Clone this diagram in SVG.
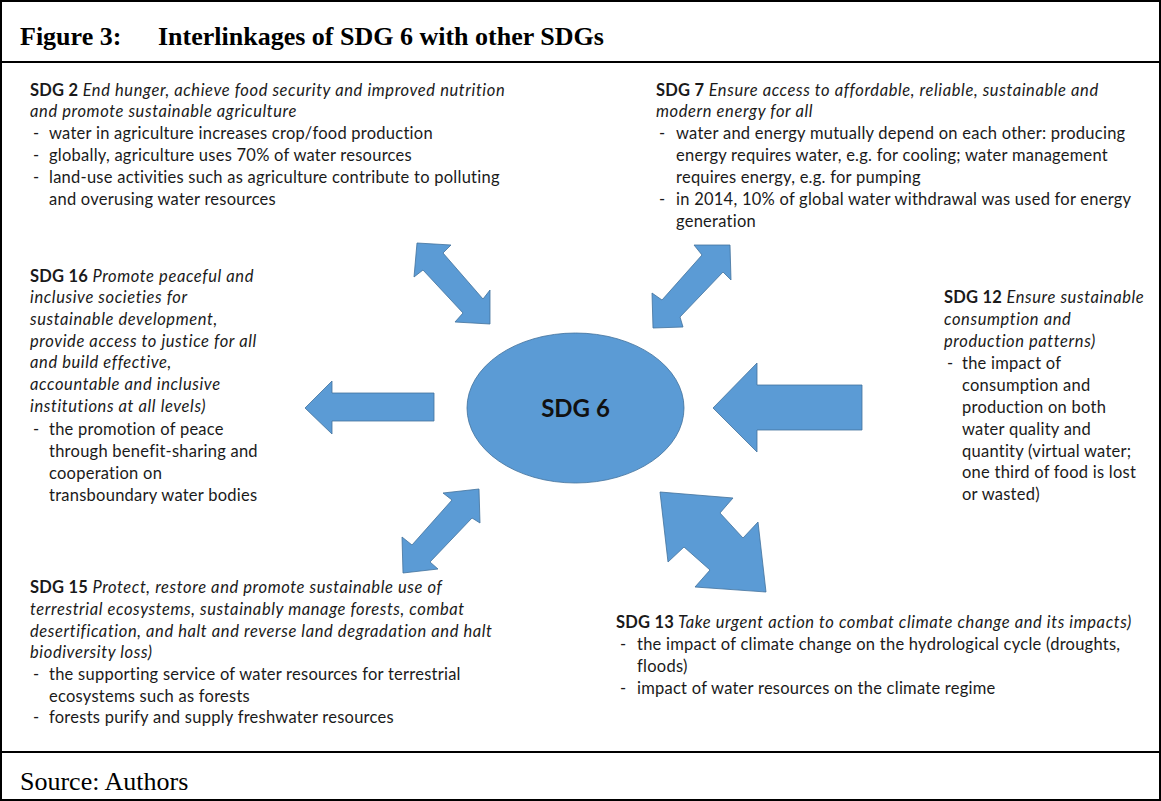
<svg xmlns="http://www.w3.org/2000/svg" width="1161" height="801" viewBox="0 0 1161 801">
<style>
.t{font-family:Lato,"Open Sans","Liberation Sans",sans-serif;font-size:16.5px;fill:#1a1a1a;letter-spacing:0.25px}
.b{font-weight:bold;letter-spacing:0.2px}
.i{font-style:italic;letter-spacing:0.6px}
.c{font-family:Lato,"Open Sans","Liberation Sans",sans-serif;font-size:24px;font-weight:bold;fill:#111}
.s{font-family:"Liberation Serif","Times New Roman",serif;fill:#000;font-size:26px}
.ar{fill:#5B9BD5;stroke:#41719C;stroke-width:0.8}
.frame{fill:none;stroke:#000;stroke-width:2}
</style>
<rect x="0" y="0" width="1161" height="801" fill="#fff"/>
<g id="frame">
<rect class="frame" x="1" y="1" width="1159" height="799"/>
<line x1="0" y1="62" x2="1161" y2="62" stroke="#000" stroke-width="2"/>
<line x1="0" y1="752" x2="1161" y2="752" stroke="#000" stroke-width="2"/>
<text class="s" x="20" y="45" font-weight="bold">Figure 3:</text>
<text class="s" x="158" y="45" font-weight="bold">Interlinkages of SDG 6 with other SDGs</text>
<text class="s" x="20" y="790">Source: Authors</text>
</g>
<g id="connectors">
<polygon class="ar" points="417,243 451,245 443,253 483,299 490,290 490,324 455,322 463,313 423,270 414,277"/>
<polygon class="ar" points="730,245 731,280 723,272 680,317 683,327 653,328 652,293 662,300 702,255 694,245"/>
<polygon class="ar" points="305,408 332,381 332,393 434,393 434,421 332,421 332,434"/>
<polygon class="ar" points="713,408 757,363 757,385 862,385 862,430 757,430 757,452"/>
<polygon class="ar" points="479,489 480,523 472,518 430,562 438,569 403,573 402,537 412,545 452,500 443,493"/>
<polygon class="ar" points="660,492 733,498 720,513 743,538 758,522 766,592 695,587 710,570 684,547 668,562"/>
</g>
<g id="sdg6">
<ellipse cx="575.5" cy="408" rx="108.5" ry="75" fill="#5B9BD5" stroke="#41719C" stroke-width="0.8"/>
<text class="c" x="575.5" y="417" text-anchor="middle">SDG 6</text>
</g>
<g id="sdg2">
<text class="t" x="30" y="96"><tspan class="b">SDG 2</tspan><tspan class="i"> End hunger, achieve food security and improved nutrition</tspan></text>
<text class="t i" x="30" y="117">and promote sustainable agriculture</text>
<text class="t" x="33" y="139">-</text><text class="t" x="49" y="139">water in agriculture increases crop/food production</text>
<text class="t" x="33" y="161">-</text><text class="t" x="49" y="161">globally, agriculture uses 70% of water resources</text>
<text class="t" x="33" y="183">-</text><text class="t" x="49" y="183">land-use activities such as agriculture contribute to polluting</text>
<text class="t" x="49" y="205">and overusing water resources</text>
</g>
<g id="sdg7">
<text class="t" x="656" y="96"><tspan class="b">SDG 7</tspan><tspan class="i"> Ensure access to affordable, reliable, sustainable and</tspan></text>
<text class="t i" x="656" y="117">modern energy for all</text>
<text class="t" x="659" y="139">-</text><text class="t" x="676" y="139">water and energy mutually depend on each other: producing</text>
<text class="t" x="676" y="161">energy requires water, e.g. for cooling; water management</text>
<text class="t" x="676" y="183">requires energy, e.g. for pumping</text>
<text class="t" x="659" y="205">-</text><text class="t" x="676" y="205">in 2014, 10% of global water withdrawal was used for energy</text>
<text class="t" x="676" y="227">generation</text>
</g>
<g id="sdg16">
<text class="t" x="30" y="282"><tspan class="b">SDG 16</tspan><tspan class="i"> Promote peaceful and</tspan></text>
<text class="t i" x="30" y="303">inclusive societies for</text>
<text class="t i" x="30" y="325">sustainable development,</text>
<text class="t i" x="30" y="347">provide access to justice for all</text>
<text class="t i" x="30" y="368">and build effective,</text>
<text class="t i" x="30" y="390">accountable and inclusive</text>
<text class="t i" x="30" y="412">institutions at all levels)</text>
<text class="t" x="33" y="435">-</text><text class="t" x="49" y="435">the promotion of peace</text>
<text class="t" x="49" y="457">through benefit-sharing and</text>
<text class="t" x="49" y="479">cooperation on</text>
<text class="t" x="49" y="501">transboundary water bodies</text>
</g>
<g id="sdg12">
<text class="t" x="944" y="303"><tspan class="b">SDG 12</tspan><tspan class="i"> Ensure sustainable</tspan></text>
<text class="t i" x="944" y="325">consumption and</text>
<text class="t i" x="944" y="347">production patterns)</text>
<text class="t" x="947" y="369">-</text><text class="t" x="962" y="369">the impact of</text>
<text class="t" x="962" y="391">consumption and</text>
<text class="t" x="962" y="413">production on both</text>
<text class="t" x="962" y="435">water quality and</text>
<text class="t" x="962" y="457">quantity (virtual water;</text>
<text class="t" x="962" y="478">one third of food is lost</text>
<text class="t" x="962" y="500">or wasted)</text>
</g>
<g id="sdg13">
<text class="t" x="616" y="628"><tspan class="b">SDG 13</tspan><tspan class="i"> Take urgent action to combat climate change and its impacts)</tspan></text>
<text class="t" x="620" y="650">-</text><text class="t" x="637" y="650">the impact of climate change on the hydrological cycle (droughts,</text>
<text class="t" x="637" y="672">floods)</text>
<text class="t" x="620" y="694">-</text><text class="t" x="637" y="694">impact of water resources on the climate regime</text>
</g>
<g id="sdg15">
<text class="t" x="30" y="593"><tspan class="b">SDG 15</tspan><tspan class="i"> Protect, restore and promote sustainable use of</tspan></text>
<text class="t i" x="30" y="615">terrestrial ecosystems, sustainably manage forests, combat</text>
<text class="t i" x="30" y="637">desertification, and halt and reverse land degradation and halt</text>
<text class="t i" x="30" y="658">biodiversity loss)</text>
<text class="t" x="33" y="680">-</text><text class="t" x="49" y="680">the supporting service of water resources for terrestrial</text>
<text class="t" x="49" y="702">ecosystems such as forests</text>
<text class="t" x="33" y="723">-</text><text class="t" x="49" y="723">forests purify and supply freshwater resources</text>
</g>
</svg>
